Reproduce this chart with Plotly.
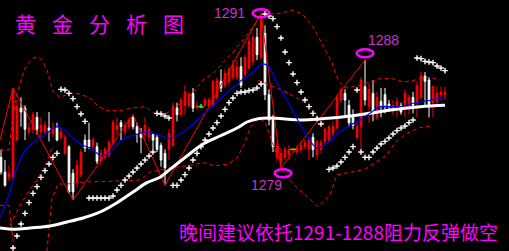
import plotly.graph_objects as go

# ---------------- data ----------------
opens = [1280.2,1279.1,1278.7,1278.7,1281.5,1283.9,1283.9,1282.1,1282.3,1283.2,
         1282.1,1282.1,1282.4,1282.0,1282.4,1281.7,1280.5,1281.0,1279.0,1278.3,
         1278.9,1281.5,1281.5,1281.0,1281.0,1279.9,1280.2,1280.4,1281.3,1282.3,
         1282.8,1282.1,1282.5,1283.2,1282.5,1282.0,1281.9,1281.7,1281.9,1281.7,
         1281.1,1280.5,1280.8,1281.1,1283.9,1283.4,1284.1,1284.1,1285.0,1283.9,
         1284.0,1284.1,1284.1,1284.1,1284.7,1285.9,1285.6,1285.9,1286.2,1286.2,
         1287.0,1286.4,1286.9,1287.4,1289.2,1287.7,1289.5,1284.9,1283.2,1280.2,
         1279.8,1280.2,1280.4,1280.8,1280.6,1280.8,1281.0,1280.8,1281.7,1280.4,
         1280.8,1281.4,1281.5,1282.0,1282.4,1284.5,1285.0,1284.1,1283.2,1281.7,
         1282.5,1285.5,1284.0,1285.0,1283.2,1284.4,1284.9,1284.2,1283.6,1284.0,
         1284.1,1284.0,1284.1,1284.7,1284.3,1284.7,1286.3,1286.0,1284.3,1284.4,
         1284.9,1284.9]
highs = [1280.8,1280.0,1279.6,1285.4,1284.5,1284.7,1284.1,1282.8,1283.6,1283.6,
         1283.2,1282.9,1283.6,1282.8,1282.8,1282.4,1281.9,1281.1,1279.3,1280.0,
         1280.8,1281.9,1282.8,1281.7,1281.3,1280.8,1281.0,1281.5,1283.0,1283.2,
         1283.0,1282.9,1283.2,1283.4,1282.8,1282.4,1283.2,1282.5,1282.0,1281.9,
         1281.3,1280.8,1282.3,1284.3,1284.3,1284.7,1285.6,1285.1,1285.4,1284.4,
         1284.2,1284.7,1284.7,1286.0,1286.2,1286.8,1286.8,1287.0,1287.5,1287.5,
         1287.7,1287.9,1289.2,1289.4,1289.9,1291.0,1290.1,1285.3,1283.4,1281.5,
         1280.9,1281.0,1281.1,1280.9,1281.1,1281.4,1281.5,1281.7,1282.0,1281.5,
         1281.5,1282.4,1282.6,1282.9,1284.9,1285.4,1285.3,1284.5,1283.8,1282.9,
         1286.2,1287.5,1285.8,1286.0,1285.1,1285.4,1285.4,1284.5,1284.5,1284.7,
         1284.3,1285.3,1284.9,1285.1,1285.9,1286.6,1286.6,1286.2,1285.6,1285.5,
         1285.5,1285.5]
lows = [1278.9,1278.0,1278.4,1278.5,1281.4,1282.5,1281.5,1281.9,1282.0,1281.9,
        1281.7,1281.9,1281.4,1281.7,1281.4,1281.5,1280.4,1277.5,1277.0,1277.9,
        1278.7,1280.6,1280.8,1280.8,1279.7,1279.6,1280.0,1280.2,1281.1,1281.9,
        1281.5,1281.9,1282.3,1282.3,1281.3,1280.5,1281.5,1281.4,1280.8,1280.6,
        1279.5,1278.1,1280.0,1281.0,1282.9,1283.2,1283.4,1283.9,1283.6,1283.8,
        1283.9,1284.0,1283.9,1284.0,1284.5,1285.1,1285.4,1285.6,1286.0,1286.0,
        1285.4,1286.2,1286.8,1287.1,1287.5,1287.5,1284.5,1282.6,1280.6,1279.9,
        1279.4,1280.0,1280.0,1280.6,1280.4,1280.5,1280.8,1280.0,1280.2,1280.0,
        1280.5,1281.1,1281.3,1281.8,1282.3,1284.3,1283.2,1282.5,1282.3,1281.5,
        1280.6,1284.1,1282.8,1282.9,1283.0,1283.2,1283.5,1283.6,1283.4,1283.2,
        1283.4,1283.2,1283.4,1283.5,1283.2,1284.5,1284.0,1283.2,1283.2,1284.0,
        1284.5,1284.5]
closes = [1279.1,1278.1,1279.0,1285.3,1284.0,1283.6,1282.3,1282.4,1283.4,1282.3,
          1282.6,1282.6,1282.2,1282.4,1281.5,1282.1,1281.7,1277.6,1277.6,1279.6,
          1280.6,1280.9,1281.0,1281.5,1279.9,1280.5,1280.8,1281.3,1282.8,1282.6,
          1282.5,1282.6,1283.0,1282.5,1282.0,1281.7,1282.6,1282.3,1281.5,1280.8,
          1280.0,1279.4,1282.0,1284.0,1283.4,1284.5,1285.1,1284.9,1283.9,1284.1,
          1284.0,1284.5,1284.5,1285.9,1286.0,1285.4,1286.5,1286.8,1287.1,1287.0,
          1285.6,1287.7,1288.9,1289.2,1287.9,1290.5,1284.9,1283.0,1281.0,1281.1,
          1280.5,1280.8,1280.8,1280.8,1280.9,1281.1,1281.3,1281.5,1280.8,1281.4,
          1281.3,1282.3,1282.5,1282.5,1284.7,1285.3,1284.5,1282.8,1282.6,1282.5,
          1286.0,1284.5,1285.3,1283.6,1284.7,1284.0,1284.0,1284.0,1284.1,1284.4,
          1283.6,1285.0,1284.7,1284.1,1285.6,1286.3,1285.9,1284.1,1285.5,1285.0,
          1285.1,1285.1]
candle_idx = list(range(len(opens)))

# blue moving average
blue_x = [-0.25,1,2.25,3.5,4.75,6,8,9.75,12.25,14,16,18,20.5,22.25,24,25.5,27.75,30.25,
          33.5,36.75,39,41.5,42.75,44.75,47.25,50.5,54,57.25,60.25,63,65.25,66.75,69,
          71.5,74,76.75,79,81.75,84.25,87.25,89.75,92.25,94.75,97.25,99.75,102.25,
          104.75,107.75,110.5]
blue_y = [1275.65,1276.6,1277.6,1279.0,1280.0,1280.7,1281.3,1281.65,1282.2,1282.5,
          1282.2,1281.65,1281.1,1280.9,1280.5,1280.3,1280.75,1281.5,1281.9,1282.1,
          1281.9,1281.65,1281.65,1281.95,1282.5,1283.4,1284.35,1285.25,1286.0,1286.6,
          1287.2,1287.05,1285.8,1284.5,1283.1,1281.7,1280.9,1281.3,1282.0,1282.6,
          1283.0,1283.5,1284.0,1284.0,1284.0,1284.2,1284.35,1284.5,1284.7]

# white long moving average
ma_x = [-0.25,3.5,7.25,12.25,16.5,20.5,24.75,29,33,36.5,39.75,42.25,46.5,50.5,54.75,
        59,61.5,64.25,67.25,75.5,80.25,84.75,92.25,97.25,104.75,111]
ma_y = [1274.9,1274.8,1274.9,1275.05,1275.35,1275.65,1276.1,1276.8,1277.6,1278.3,
        1278.7,1279.3,1280.3,1281.2,1281.8,1282.4,1282.85,1283.1,1283.15,1283.0,
        1283.1,1283.2,1283.5,1283.75,1284.0,1284.1]

# parabolic SAR dots
sar_idx = [3,4,5,6,7,8,9,10,11,12,13,14,
           15,16,17,18,19,20,21,
           22,23,24,25,26,27,28,29,30,31,32,33,34,35,36,37,38,
           39,40,41,42,
           43,44,45,46,47,48,49,50,51,52,53,54,55,56,57,58,59,60,61,62,63,64,65,
           66,67,68,69,70,71,72,73,74,75,76,77,78,79,80,
           82,83,84,85,86,87,88,
           89,
           90,91,92,93,94,95,96,97,98,99,100,101,102,103,
           104,105,106,107,108,109,110,111]
sar_val = [1273.4,1274.3,1275.2,1276.0,1276.8,1277.5,1278.0,1278.7,1279.2,1279.7,1280.2,1280.5,
           1285.3,1285.25,1285.0,1284.6,1284.0,1283.45,1282.9,
           1277.15,1277.15,1277.15,1277.15,1277.15,1277.15,1277.3,1277.75,1278.1,1278.5,
           1278.8,1279.1,1279.4,1279.7,1280.0,1280.3,1280.6,
           1283.5,1283.45,1283.3,1283.15,
           1278.1,1278.1,1278.5,1278.9,1279.4,1280.0,1280.5,1281.0,1281.5,1281.95,1282.4,
           1282.8,1283.3,1283.8,1284.3,1284.65,1285.0,1285.1,1285.1,1285.2,1285.25,1285.4,1285.7,
           1290.95,1290.8,1290.6,1290.0,1289.15,1288.1,1287.3,1286.45,1285.8,1285.1,1284.5,
           1284.0,1283.5,1283.1,1282.7,
           1279.3,1279.4,1279.55,1279.85,1280.2,1280.6,1281.0,
           1285.25,
           1280.6,1280.2,1280.2,1280.6,1280.9,1281.2,1281.4,1281.65,1281.95,1282.2,1282.4,
           1282.55,1282.8,1283.0,
           1287.65,1287.6,1287.4,1287.35,1287.3,1287.05,1286.9,1286.7]

# zigzag pivots
zz_x = [-0.25,3,18,33,41,65,70,91]
zz_y = [1281.5,1285.4,1277.0,1283.4,1278.1,1291.0,1279.4,1287.5]

# bands (red dashed)
up_x = [-0.25,2,3,4,5,6,7.25,8.5,9.75,10.5,11.5,12,12.75,13.25,14.75,17.25,19,21,23,
        24.25,26.75,29.75,32.75,36,38.75,41,42.75,46,48.5,50.5,53,55.5,58,60.5,63,
        65.25,69.75,73,75.5,78,79.75,81.5,82.75,84.25,86,89.75,94.75,97.75,100.75,
        103.5,106.75,109.75]
up_y = [1280.75,1280.75,1283.4,1284.9,1286.0,1286.9,1287.4,1287.7,1287.65,1287.35,
        1286.75,1286.15,1285.4,1285.0,1284.7,1285.0,1285.0,1284.8,1284.5,1284.0,1283.7,
        1283.7,1283.9,1284.0,1283.4,1283.45,1283.75,1284.5,1285.25,1286.0,1286.5,1287.3,
        1288.1,1289.0,1290.0,1290.9,1291.0,1291.25,1290.9,1290.0,1289.0,1288.0,1287.3,
        1286.0,1285.4,1285.6,1286.1,1286.1,1285.85,1286.0,1286.2,1286.0]
lo_x = [-0.25,2,3,4,9.75,11.5,12.75,14.25,16.5,21,27.25,34.75,37.25,42.25,47.25,50.5,
        53.5,56.75,59,60.5,62.25,64.25,66,68.5,71,73.5,76,79.25,82.25,84,87.75,91,
        93.5,96.5,98.5,101.5,104.25,107.25]
lo_y = [1276.6,1276.6,1274.0,1272.1,1271.4,1273.2,1277.15,1278.2,1278.2,1278.35,1278.4,
        1278.5,1279.1,1279.4,1279.6,1279.8,1279.55,1279.7,1280.15,1281.0,1282.4,1283.15,
        1282.85,1280.75,1278.9,1278.05,1277.4,1276.5,1277.4,1278.9,1279.1,1279.3,
        1279.8,1280.4,1281.3,1282.0,1282.4,1282.55]
mid_x = [2.25,4.75,7.25,9,11,13,None,64.25,67.25,70.5,74,76,78.5,81]
mid_y = [1275.1,1276.6,1277.8,1278.5,1279.55,1281.05,None,1286.0,1285.6,1285.2,
         1284.65,1284.3,1283.4,1282.6]

# annotations
title_chars = ["黄", "金", "分", "析", "图"]
note_text = "晚间建议依托1291-1288阻力反弹做空"
pivot_labels = ["1291", "1288", "1279"]
pivot_idx = [65, 91, 70.5]
pivot_price = [1291, 1288, 1279]

# ---------------- figure ----------------
MAG = "#ff00ff"
DASH = dict(color="#ff0000", width=1, dash="4px,3px")
fig = go.Figure()

for bx, by in ((up_x, up_y), (lo_x, lo_y), (mid_x, mid_y)):
    fig.add_trace(go.Scatter(x=bx, y=by, mode="lines", line=DASH, hoverinfo="skip",
                             connectgaps=False))
fig.add_trace(go.Scatter(x=zz_x, y=zz_y, mode="lines",
                         line=dict(color="#ff0000", width=1), hoverinfo="skip"))
fig.add_trace(go.Scatter(x=ma_x, y=ma_y, mode="lines", line_shape="spline",
                         line=dict(color="#ffffff", width=3), hoverinfo="skip"))
fig.add_trace(go.Scatter(x=blue_x, y=blue_y, mode="lines", line_shape="spline",
                         line=dict(color="#0000ff", width=1.2), hoverinfo="skip"))

fig.add_trace(go.Candlestick(
    x=candle_idx, open=opens, high=highs, low=lows, close=closes,
    increasing=dict(line=dict(color="#ff0000", width=1), fillcolor="#ff0000"),
    decreasing=dict(line=dict(color="#ffffff", width=1), fillcolor="#ffffff"),
    whiskerwidth=0, hoverinfo="skip"))

doji_x = [i for i in candle_idx if opens[i] == closes[i]]
doji_y = [opens[i] for i in doji_x]
fig.add_trace(go.Scatter(x=doji_x, y=doji_y, mode="markers",
                         marker=dict(symbol="line-ew", size=4, line=dict(color="#00ff00", width=1.5)),
                         hoverinfo="skip"))

fig.add_trace(go.Scatter(x=sar_idx, y=sar_val, mode="markers",
                         marker=dict(symbol="cross-thin", size=4, line=dict(color="#ffffff", width=1.4)),
                         hoverinfo="skip"))

# ellipses around pivots
for px_, pp in zip(pivot_idx, pivot_price):
    fig.add_shape(type="circle", xref="x", yref="y",
                  x0=px_ - 2.1, x1=px_ + 2.1, y0=pp - 0.3, y1=pp + 0.3,
                  line=dict(color=MAG, width=2.5))

label_shift = [(-32, 0), (18, 13), (-17, -12)]
for lab, px_, pp, (dx, dy) in zip(pivot_labels, pivot_idx, pivot_price, label_shift):
    fig.add_annotation(x=px_, y=pp, text=lab, showarrow=False, xshift=dx, yshift=dy,
                       font=dict(family="Liberation Sans Narrow, Liberation Sans", size=14, color="#cc33cc"))

title_x = [25, 62, 99, 136, 173]
for ch, tx in zip(title_chars, title_x):
    fig.add_annotation(x=tx / 509, y=1 - 23 / 251, xref="paper", yref="paper", text=ch,
                       showarrow=False, xanchor="center", yanchor="middle",
                       font=dict(family="Noto Sans CJK SC", size=21, color=MAG))

fig.add_annotation(x=177 / 509, y=1 - 231 / 251, xref="paper", yref="paper", text=note_text,
                   showarrow=False, xanchor="left", yanchor="middle",
                   font=dict(family="Noto Sans CJK SC", size=19, color=MAG))

fig.update_layout(
    width=509, height=251, margin=dict(l=0, r=0, t=0, b=0),
    paper_bgcolor="#000000", plot_bgcolor="#000000",
    showlegend=False, boxgap=0.4,
    xaxis=dict(range=[-0.25, 127], visible=False, rangeslider=dict(visible=False), fixedrange=True),
    yaxis=dict(range=[1273.175, 1292], visible=False, fixedrange=True),
)
fig.write_html("out.html", config=dict(displayModeBar=False))
